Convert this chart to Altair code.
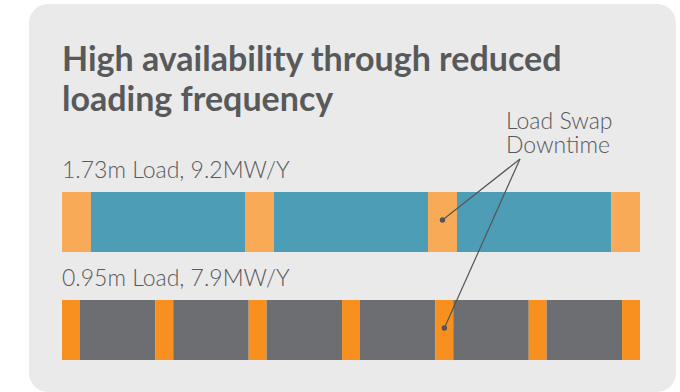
import altair as alt
import pandas as pd

# Two loading schedules, each split into run periods and load-swap downtime.
# Shares are percent of the same timeline.
rows = ["1.73m Load, 9.2MW/Y", "0.95m Load, 7.9MW/Y"]

top_phase = ["Downtime", "Run", "Downtime", "Run", "Downtime", "Run", "Downtime"]
top_share = [5.0, 26.67, 5.0, 26.66, 5.0, 26.67, 5.0]

bottom_phase = ["Downtime", "Run", "Downtime", "Run", "Downtime", "Run", "Downtime",
                "Run", "Downtime", "Run", "Downtime", "Run", "Downtime"]
bottom_share = [3.1, 13.05, 3.1, 13.05, 3.1, 13.05, 3.1, 13.05, 3.1, 13.05, 3.1, 13.05, 3.1]

# which segment of each row the "Load Swap Downtime" callout points at
callout_segment = [4, 8]

title_lines = ["High availability through reduced", "loading frequency"]
callout_lines = ["Load Swap", "Downtime"]

segment_keys = ["top Downtime", "top Run", "bottom Downtime", "bottom Run"]
segment_colors = ["#F9AA56", "#4E9DB7", "#F7901E", "#6D6E71"]


def build(row, tag, phases, shares):
    frame = pd.DataFrame({"phase": phases, "share": shares})
    frame["end"] = frame["share"].cumsum()
    frame["start"] = frame["end"] - frame["share"]
    frame["mid"] = (frame["start"] + frame["end"]) / 2
    frame["row"] = row
    frame["key"] = tag + " " + frame["phase"]
    return frame


top = build(rows[0], "top", top_phase, top_share)
bottom = build(rows[1], "bottom", bottom_phase, bottom_share)
segments = pd.concat([top, bottom], ignore_index=True)

callouts = pd.concat(
    [top.iloc[[callout_segment[0]]], bottom.iloc[[callout_segment[1]]]],
    ignore_index=True,
)
labels = pd.DataFrame({"row": rows, "pos": [0, 0]})

x_scale = alt.Scale(domain=[0, 100], range=[62, 640], nice=False, zero=False)
y_scale = alt.Scale(domain=rows, range=[192, 360], paddingInner=0.4444, paddingOuter=0)

TEXT = "#58595B"
LIGHT_FONT = "Lato"

one = pd.DataFrame({"k": [0]})

panel = alt.Chart(one).mark_rect(cornerRadius=19, color="#EAEAEA").encode(
    x=alt.value(29), x2=alt.value(676), y=alt.value(4), y2=alt.value(392)
)

title = alt.Chart(one).mark_text(
    text=title_lines, align="left", baseline="alphabetic", font="Lato",
    fontWeight="bold", fontSize=34, lineHeight=40, color=TEXT,
).encode(x=alt.value(62), y=alt.value(71))

bars = alt.Chart(segments).mark_rect().encode(
    x=alt.X("start:Q", scale=x_scale, axis=None),
    x2="end:Q",
    y=alt.Y("row:N", scale=y_scale, axis=None),
    color=alt.Color("key:N", scale=alt.Scale(domain=segment_keys, range=segment_colors), legend=None),
)

row_labels = alt.Chart(labels).mark_text(
    align="left", baseline="alphabetic", dy=-44, font=LIGHT_FONT, fontWeight=300,
    fontSize=23, color=TEXT,
).encode(
    x=alt.X("pos:Q", scale=x_scale, axis=None),
    y=alt.Y("row:N", scale=y_scale, axis=None),
    text="row:N",
)

leaders = alt.Chart(callouts).mark_rule(color="#555555", strokeWidth=1.2, yOffset=-2).encode(
    x=alt.X("mid:Q", scale=x_scale, axis=None),
    y=alt.Y("row:N", scale=y_scale, axis=None),
    x2=alt.value(520),
    y2=alt.value(159),
)

dots = alt.Chart(callouts).mark_circle(color="#555555", opacity=1, size=30, yOffset=-2).encode(
    x=alt.X("mid:Q", scale=x_scale, axis=None),
    y=alt.Y("row:N", scale=y_scale, axis=None),
)

callout_top = alt.Chart(one).mark_text(
    text=callout_lines[0], align="left", baseline="alphabetic", font=LIGHT_FONT,
    fontWeight=300, fontSize=23, color=TEXT,
).encode(x=alt.value(506), y=alt.value(129))

callout_bottom = alt.Chart(one).mark_text(
    text=callout_lines[1], align="left", baseline="alphabetic", font=LIGHT_FONT,
    fontWeight=300, fontSize=23, color=TEXT,
).encode(x=alt.value(506), y=alt.value(153))

chart = alt.layer(
    panel, title, bars, row_labels, leaders, dots, callout_top, callout_bottom
).properties(
    width=680, height=392, padding=0,
    autosize=alt.AutoSizeParams(type="none"),
    background="#FFFFFF",
).configure_view(stroke=None)

chart.save("out.html", embed_options={"renderer": "svg", "actions": False})
